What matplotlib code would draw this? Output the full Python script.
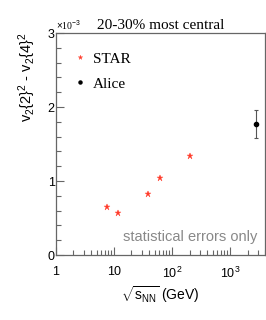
import matplotlib
matplotlib.use("Agg")
import matplotlib.pyplot as plt
from matplotlib.lines import Line2D
from matplotlib.ticker import MultipleLocator, FixedLocator, FixedFormatter, LogLocator, NullFormatter

plt.rcParams['mathtext.fontset'] = 'custom'
plt.rcParams['mathtext.rm'] = 'Liberation Sans'
plt.rcParams['mathtext.it'] = 'Liberation Sans:italic'
plt.rcParams['mathtext.bf'] = 'Liberation Sans:bold'

# Data (y in units of 1e-3)
star_energy = [7.7, 11.5, 39, 62.4, 200]
star_value = [0.65, 0.57, 0.82, 1.04, 1.34]
alice_energy = [2760]
alice_value = [1.77]
alice_err = [0.19]

xtick_vals = [1, 10, 100, 1000]
xtick_labels = ['1', '10', '$10^2$', '$10^3$']
ytick_vals = [0, 1, 2, 3]
ytick_labels = ['0', '1', '2', '3']

star_col = '#ff3b2a'

fig = plt.figure(figsize=(2.66, 3.2), dpi=100)
ax = fig.add_axes([56/266, 1-255/320, 209/266, 222/320])

spine_col = '#666666'
ax.plot(star_energy, star_value, linestyle='none', marker='*', markersize=5,
        color=star_col, markeredgewidth=0.3)
ax.errorbar(alice_energy, alice_value, yerr=alice_err, fmt='o', markersize=3,
            color='black', ecolor='#555555', elinewidth=0.8, capsize=1.5,
            capthick=0.8)

ax.set_xscale('log')
ax.set_xlim(1, 4000)
ax.set_ylim(0, 3)

ax.xaxis.set_major_locator(FixedLocator(xtick_vals))
ax.xaxis.set_major_formatter(FixedFormatter(xtick_labels))
ax.xaxis.set_minor_locator(LogLocator(base=10, subs=range(2, 10), numticks=20))
ax.xaxis.set_minor_formatter(NullFormatter())
ax.yaxis.set_major_locator(FixedLocator(ytick_vals))
ax.yaxis.set_major_formatter(FixedFormatter(ytick_labels))
ax.yaxis.set_minor_locator(MultipleLocator(0.2))

for s in ax.spines.values():
    s.set_color(spine_col)
    s.set_linewidth(0.9)

ax.tick_params(which='both', direction='in', colors=spine_col, labelcolor='black',
               top=False, right=False)
ax.tick_params(which='major', length=6, width=0.8, labelsize=9, pad=5)
ax.tick_params(which='minor', length=3.5, width=0.8)
for lab in ax.get_xticklabels() + ax.get_yticklabels():
    lab.set_family('Liberation Sans')
ax.tick_params(axis='x', pad=8)
ax.tick_params(axis='y', pad=1)

ax.set_ylabel('v$_2${2}$^2$ - v$_2${4}$^2$', fontsize=10.5, family='Liberation Sans')
ax.yaxis.set_label_coords(-0.085, 0.80)
ax.set_xlabel(r'$\sqrt{\mathrm{s}_{\mathrm{NN}}}$ (GeV)', fontsize=10, family='Liberation Sans', labelpad=2)

ax.set_title('20-30% most central', fontsize=11, family='Liberation Serif', pad=3)
ax.text(0.0, 1.005, r'$\times$10$^{-3}$', transform=ax.transAxes, fontsize=7,
        family='Liberation Serif', ha='left', va='bottom')

ax.text(0.965, 0.05, 'statistical errors only', transform=ax.transAxes, fontsize=10.5,
        family='Liberation Sans', color='#888888', ha='right', va='bottom')

handles = [Line2D([], [], linestyle='none', marker='*', markersize=3.5, color=star_col,
                  markeredgewidth=0.2),
           Line2D([], [], linestyle='none', marker='o', markersize=2.2, color='black')]
leg = ax.legend(handles, ['STAR', 'Alice'], loc='upper left', bbox_to_anchor=(0.08, 0.915),
                frameon=False, prop={'family': 'Liberation Serif', 'size': 11},
                handlelength=1, handletextpad=0.3, labelspacing=0.75,
                borderpad=0, borderaxespad=0)

fig.savefig('out.png', dpi=100)
